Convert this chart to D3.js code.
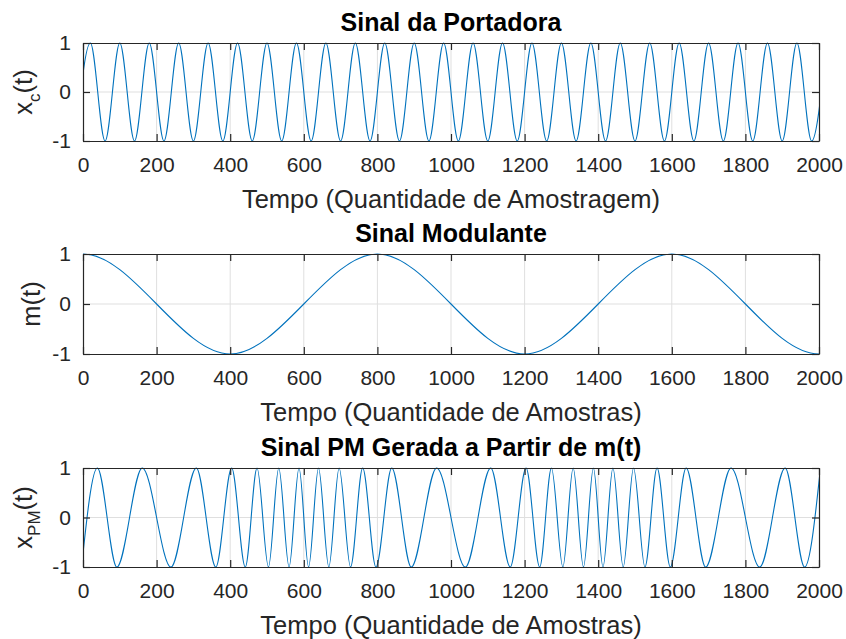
<!DOCTYPE html>
<html lang="pt">
  <head>
    <meta charset="UTF-8" />
    <title>Sinais PM</title>
    <style>
      body { margin: 0; background: #fff; }
      svg { font-family: "Liberation Sans", Arial, sans-serif; }
    </style>
  </head>
  <body>
    <div id="chart"></div>
    <script src="https://d3js.org/d3.v7.min.js"></script>
    <script>
      // turning points (sample index, amplitude);
      // the first and last ones sit just outside 0..2000 and get clipped
      const carrierT = [-20, 20, 60, 100, 140, 180, 220, 260, 300, 340, 380, 420, 460, 500, 540, 580, 620, 660, 700, 740, 780,
        820, 860, 900, 940, 980, 1020, 1060, 1100, 1140, 1180, 1220, 1260, 1300, 1340, 1380, 1420, 1460, 1500, 1540, 1580,
        1620, 1660, 1700, 1740, 1780, 1820, 1860, 1900, 1940, 1980, 2020];
      const carrierV = [-1, 1, -1, 1, -1, 1, -1, 1, -1, 1, -1, 1, -1, 1, -1, 1, -1, 1, -1, 1, -1, 1, -1, 1, -1, 1, -1,
        1, -1, 1, -1, 1, -1, 1, -1, 1, -1, 1, -1, 1, -1, 1, -1, 1, -1, 1, -1, 1, -1, 1, -1, 1];

      const msgT = [-400, 0, 400, 800, 1200, 1600, 2000, 2400];
      const msgV = [-1, 1, -1, 1, -1, 1, -1, 1];

      const pmT = [-4, 39, 92, 161, 239, 308, 361, 404, 441, 473, 504, 532, 560, 587, 613, 640, 668, 696, 727, 760, 796,
        839, 892, 961, 1039, 1108, 1161, 1204, 1241, 1273, 1304, 1332, 1360, 1387, 1413, 1440, 1468, 1496, 1527, 1560,
        1596, 1639, 1692, 1761, 1839, 1908, 1961, 2004];
      const pmV = [-1, 1, -1, 1, -1, 1, -1, 1, -1, 1, -1, 1, -1, 1, -1, 1, -1, 1, -1, 1, -1, 1, -1, 1, -1, 1, -1,
        1, -1, 1, -1, 1, -1, 1, -1, 1, -1, 1, -1, 1, -1, 1, -1, 1, -1, 1, -1, 1];

      const xTicks = [0, 200, 400, 600, 800, 1000, 1200, 1400, 1600, 1800, 2000];
      const yTicks = [-1, 0, 1];

      const titles = ["Sinal da Portadora", "Sinal Modulante", "Sinal PM Gerada a Partir de m(t)"];
      const xLabels = ["Tempo (Quantidade de Amostragem)", "Tempo (Quantidade de Amostras)", "Tempo (Quantidade de Amostras)"];
      const yLabels = [["x", "c"], ["m", ""], ["x", "PM"]];

      const W = 846, H = 639;
      const panels = [
        { t: carrierT, v: carrierV, top: 43, bottom: 141, labelX: 32 },
        { t: msgT, v: msgV, top: 254, bottom: 354, labelX: 40 },
        { t: pmT, v: pmV, top: 468, bottom: 567, labelX: 32 }
      ];

      const ink = "#262626";
      const svg = d3.select("#chart").append("svg").attr("width", W).attr("height", H);
      const x = d3.scaleLinear().domain([0, 2000]).range([83, 819]);

      panels.forEach((p, i) => {
        const y = d3.scaleLinear().domain([-1, 1]).range([p.bottom, p.top]);
        const g = svg.append("g");

        g.append("clipPath").attr("id", "clip" + i).append("rect")
          .attr("x", x(0)).attr("y", p.top - 1)
          .attr("width", x(2000) - x(0)).attr("height", p.bottom - p.top + 2);

        // grid
        g.append("g").selectAll("line").data(xTicks.slice(1, -1)).join("line")
          .attr("x1", d => x(d)).attr("x2", d => x(d))
          .attr("y1", p.top).attr("y2", p.bottom)
          .attr("stroke", "#dfdfdf");
        g.append("g").selectAll("line").data(yTicks.slice(1, -1)).join("line")
          .attr("x1", x(0)).attr("x2", x(2000))
          .attr("y1", d => y(d)).attr("y2", d => y(d))
          .attr("stroke", "#dfdfdf");

        // signal
        const line = d3.line().x((d, k) => x(p.t[k])).y(d => y(d)).curve(d3.curveMonotoneX);
        g.append("path").attr("d", line(p.v)).attr("clip-path", `url(#clip${i})`)
          .attr("fill", "none").attr("stroke", "#0072BD").attr("stroke-width", 1.1);

        // axes, ticks pointing inward
        const fmt = d3.format("d");
        g.append("g").attr("transform", `translate(0,${p.bottom})`)
          .call(d3.axisBottom(x).tickValues(xTicks).tickSizeInner(-7).tickSizeOuter(0).tickPadding(16).tickFormat(fmt));
        g.append("g").attr("transform", `translate(0,${p.top})`)
          .call(d3.axisTop(x).tickValues(xTicks).tickSizeInner(-7).tickSizeOuter(0).tickFormat(""));
        g.append("g").attr("transform", `translate(${x(0)},0)`)
          .call(d3.axisLeft(y).tickValues(yTicks).tickSizeInner(-7).tickSizeOuter(0).tickPadding(12)
            .tickFormat(d => d < 0 ? "-" + Math.abs(d) : fmt(d)));
        g.append("g").attr("transform", `translate(${x(2000)},0)`)
          .call(d3.axisRight(y).tickValues(yTicks).tickSizeInner(-7).tickSizeOuter(0).tickFormat(""));

        g.selectAll(".domain").attr("stroke", ink).attr("stroke-width", 1.2);
        g.selectAll(".tick line").attr("stroke", ink).attr("stroke-width", 1.2);
        g.selectAll(".tick text").attr("fill", ink).style("font-size", "21px")
          .style("font-family", "'Liberation Sans', Arial, sans-serif");

        // title
        svg.append("text").attr("x", (x(0) + x(2000)) / 2).attr("y", p.top - 12)
          .attr("text-anchor", "middle").attr("font-weight", "bold").attr("font-size", 25)
          .attr("fill", "#000").text(titles[i]);

        // x label
        svg.append("text").attr("x", (x(0) + x(2000)) / 2).attr("y", p.bottom + 67)
          .attr("text-anchor", "middle").attr("font-size", 25.5).attr("fill", ink).text(xLabels[i]);

        // y label
        const yl = svg.append("text")
          .attr("transform", `translate(${p.labelX},${(p.top + p.bottom) / 2}) rotate(-90)`)
          .attr("text-anchor", "middle").attr("font-size", 25.5).attr("fill", ink);
        yl.append("tspan").text(yLabels[i][0]);
        if (yLabels[i][1]) yl.append("tspan").attr("font-size", 17).attr("dy", 8).text(yLabels[i][1]);
        yl.append("tspan").attr("dy", yLabels[i][1] ? -8 : 0).text("(t)");
      });
    </script>
  </body>
</html>
